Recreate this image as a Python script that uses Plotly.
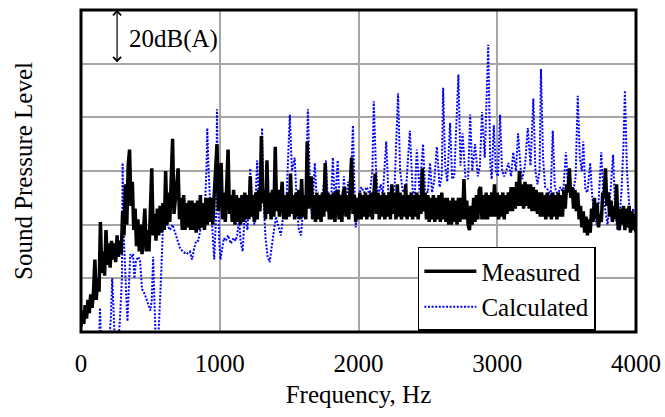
import plotly.graph_objects as go

# ---------------- data ----------------
# Measured: 10 Hz spacing, 0 .. 4000 Hz
meas_freq = list(range(0, 4001, 10))
meas_db_0_1000 = [
    2, 8, 3, 10, 5, 12, 7, 14, 9, 15,
    27, 12, 20, 15, 41, 22, 30, 21, 38, 25,
    33, 24, 34, 27, 33, 26, 36, 28, 34, 29,
    45, 36, 55, 40, 62, 68, 47, 56, 38, 46,
    32, 42, 30, 40, 29, 41, 46, 30, 38, 30,
    42, 61, 36, 44, 34, 46, 36, 47, 37, 48,
    38, 60, 40, 52, 41, 55, 72, 44, 52, 55,
    61, 42, 50, 38, 51, 38, 48, 39, 49, 38,
    49, 38, 48, 37, 49, 38, 51, 39, 48, 38,
    50, 40, 50, 41, 50, 40, 51, 60, 70, 45,
]
meas_db_1000_2000 = [
    52, 63, 42, 52, 41, 55, 68, 44, 51, 41,
    53, 40, 51, 41, 50, 40, 51, 41, 52, 42,
    51, 42, 58, 43, 51, 41, 52, 42, 53, 45,
    73, 48, 53, 42, 64, 44, 52, 42, 53, 43,
    69, 45, 53, 43, 52, 56, 42, 51, 42, 52,
    43, 59, 44, 51, 42, 52, 43, 53, 42, 57,
    43, 51, 42, 71, 46, 52, 58, 42, 51, 41,
    52, 42, 51, 41, 52, 43, 63, 45, 52, 42,
    51, 42, 52, 41, 51, 53, 42, 51, 41, 52,
    54, 43, 51, 42, 52, 65, 44, 51, 41, 50,
]
meas_db_2000_3000 = [
    42, 52, 42, 51, 43, 52, 42, 51, 43, 52,
    42, 53, 59, 44, 52, 42, 51, 43, 52, 42,
    51, 43, 52, 42, 55, 44, 52, 42, 55, 43,
    52, 42, 51, 43, 55, 42, 51, 43, 52, 42,
    51, 43, 52, 42, 51, 44, 61, 45, 52, 42,
    51, 41, 50, 42, 51, 41, 50, 42, 51, 41,
    52, 42, 50, 41, 50, 40, 49, 40, 50, 41,
    49, 40, 50, 41, 50, 42, 57, 42, 49, 40,
    38, 47, 40, 50, 41, 51, 42, 53, 54, 42,
    51, 42, 52, 42, 51, 43, 52, 43, 55, 43,
]
meas_db_3000_4000 = [
    52, 42, 51, 43, 52, 42, 51, 44, 52, 45,
    54, 45, 54, 46, 56, 47, 60, 47, 55, 46,
    56, 47, 55, 46, 55, 45, 54, 45, 53, 44,
    52, 43, 52, 43, 51, 42, 52, 43, 51, 42,
    52, 43, 51, 42, 52, 43, 51, 43, 53, 46,
    55, 52, 61, 50, 54, 46, 53, 45, 52, 42,
    47, 39, 45, 37, 43, 36, 42, 37, 46, 41,
    50, 42, 48, 39, 44, 41, 52, 50, 61, 47,
    52, 43, 49, 41, 47, 42, 55, 40, 38, 46,
    40, 47, 38, 46, 39, 47, 37, 45, 38, 44,
    37,
]

calc_freq = [
    120, 130, 137, 145, 200, 215, 225, 235, 245, 270, 280, 295, 300, 305, 315,
    325, 335, 345, 355, 365, 375, 385, 395, 410, 425, 440, 460, 480, 500, 510,
    520, 530, 540, 555, 565, 575, 590, 605, 620, 640, 660, 680, 700, 715, 735,
    760, 785, 800, 815, 830, 845, 860, 875, 890, 905, 910, 920, 930, 945, 960,
    975, 980, 985, 995, 1005, 1015, 1030, 1045, 1060, 1080, 1100, 1115, 1125,
    1140, 1150, 1165, 1180, 1200, 1220, 1235, 1250, 1270, 1285, 1300, 1305,
    1315, 1330, 1345, 1360, 1375, 1390, 1405, 1420, 1440, 1455, 1480, 1505,
    1520, 1540, 1555, 1570, 1585, 1600, 1620, 1635, 1650, 1665, 1685, 1700,
    1720, 1740, 1765, 1780, 1800, 1815, 1830, 1850, 1865, 1880, 1895, 1910,
    1925, 1940, 1960, 1970, 1980, 2000, 2020, 2040, 2060, 2080, 2100, 2110,
    2125, 2140, 2160, 2175, 2200, 2215, 2240, 2260, 2285, 2300, 2320, 2345,
    2370, 2390, 2405, 2420, 2440, 2465, 2480, 2500, 2515, 2530, 2545, 2565,
    2585, 2600, 2610, 2625, 2640, 2660, 2675, 2690, 2720, 2735, 2750, 2770,
    2790, 2805, 2820, 2840, 2860, 2875, 2890, 2910, 2935, 2950, 2960, 2975,
    2990, 3005, 3020, 3035, 3050, 3065, 3080, 3100, 3115, 3135, 3150, 3170,
    3180, 3200, 3220, 3240, 3260, 3275, 3290, 3305, 3315, 3330, 3345, 3365,
    3385, 3400, 3415, 3435, 3455, 3475, 3495, 3510, 3530, 3550, 3565, 3580,
    3595, 3610, 3620, 3635, 3650, 3670, 3685, 3700, 3715, 3730, 3750, 3765,
    3780, 3795, 3810, 3835, 3850, 3865, 3880, 3895, 3910, 3920, 3935, 3950,
    3965, 3980, 3995,
]
calc_db = [
    -5, -5, 9, -5, -5, 5, 20, 8, -5, -3, 4, 20, 63, 40, 25,
    15, 4, 20, 29, 28, 29, 20, 26, 28, 27, 16, 14, 11, 8, 12,
    28, 10, -5, -5, 10, 18, 38, 42, 40, 38, 40, 37, 34, 31, 30,
    29, 30, 27, 31, 34, 34, 38, 44, 42, 62, 76, 60, 49, 40, 27,
    45, 83, 60, 35, 27, 30, 35, 34, 36, 33, 35, 34, 36,
    42, 34, 30, 44, 38, 61, 44, 40, 64, 45, 60, 76,
    50, 35, 28, 26, 32, 38, 43, 40, 36, 42, 48, 81,
    60, 65, 48, 38, 36, 45, 50, 83, 55, 42, 63, 48,
    45, 50, 64, 48, 45, 65, 47, 64, 46, 44, 58, 45,
    56, 48, 77, 55, 39, 50, 54, 52, 54, 51, 60, 86,
    62, 50, 55, 51, 71, 52, 50, 54, 89, 60, 52, 55,
    75, 53, 50, 68, 52, 70, 53, 52, 63, 52, 56, 69,
    54, 58, 91, 62, 56, 78, 57, 58, 96, 62, 74, 58,
    57, 81, 60, 70, 58, 62, 82, 65, 107, 62, 57, 77,
    60, 58, 81, 60, 58, 60, 63, 58, 67, 60, 74, 60,
    57, 62, 76, 62, 87, 60, 55, 60, 98, 65, 54, 53,
    51, 75, 54, 51, 54, 52, 67, 54, 51, 53, 58, 88,
    65, 60, 71, 53, 52, 63, 50, 45, 40, 48, 67, 50,
    44, 40, 48, 66, 45, 38, 42, 52, 70, 90, 60, 48,
    42, 46, 38,
]

x_ticks = [0, 1000, 2000, 3000, 4000]
y_grid = [0, 20, 40, 60, 80, 100, 120]
scale_label = "20dB(A)"

meas_db = meas_db_0_1000 + meas_db_1000_2000 + meas_db_2000_3000 + meas_db_3000_4000

FONT = "Liberation Serif, Times New Roman, serif"
FS = 25

fig = go.Figure()
fig.add_trace(go.Scatter(
    x=calc_freq, y=calc_db, mode="lines", name="Calculated",
    line=dict(color="#0000ff", width=2, dash="2px,1.6px"),
    legendrank=2,
))
fig.add_trace(go.Scatter(
    x=meas_freq, y=meas_db, mode="lines", name="Measured",
    line=dict(color="#000000", width=3.5),
    legendrank=1,
))

# scale arrow (one grid division = 20 dB)
fig.add_annotation(
    x=260, y=120, ax=260, ay=100, xref="x", yref="y", axref="x", ayref="y",
    text="", showarrow=True, arrowside="end+start", arrowhead=4, startarrowhead=4,
    arrowsize=1.3, startarrowsize=1.3, arrowwidth=1.2, arrowcolor="black",
    standoff=0, startstandoff=0,
)
fig.add_annotation(
    x=335, y=109.3, xref="x", yref="y", text=scale_label, showarrow=False,
    xanchor="left", yanchor="middle",
    font=dict(family=FONT, size=FS, color="black"),
)

# frame
fig.add_shape(type="rect", xref="paper", yref="paper", x0=0, x1=1, y0=0, y1=1,
              line=dict(color="black", width=3), layer="above")

fig.update_layout(
    width=665, height=417,
    margin=dict(l=81, r=29, t=10, b=85),
    paper_bgcolor="white", plot_bgcolor="white",
    font=dict(family=FONT, size=FS, color="black"),
    showlegend=True,
    legend=dict(
        x=0.607, y=0.264, xanchor="left", yanchor="top",
        bgcolor="white", bordercolor="black", borderwidth=1.5,
        font=dict(family=FONT, size=FS, color="black"),
        tracegroupgap=0, itemwidth=52,
    ),
    xaxis=dict(
        range=[0, 4000], tickvals=x_ticks, ticks="", showline=False,
        showgrid=True, gridcolor="#a6a6a6", gridwidth=1.5, zeroline=False,
        automargin=False, ticklabelstandoff=14,
        title=dict(text="Frequency, Hz", standoff=9,
                   font=dict(family=FONT, size=FS)),
        tickfont=dict(family=FONT, size=FS),
    ),
    yaxis=dict(
        range=[0, 120], tickvals=y_grid, showticklabels=False, ticks="",
        showline=False, showgrid=True, gridcolor="#a6a6a6", gridwidth=1.5,
        zeroline=False, automargin=False,
        title=dict(text="Sound Pressure Level", standoff=40,
                   font=dict(family=FONT, size=FS)),
    ),
)

fig.write_html("out.html", config={"displayModeBar": False},
               post_script="document.body.style.margin='0';")
